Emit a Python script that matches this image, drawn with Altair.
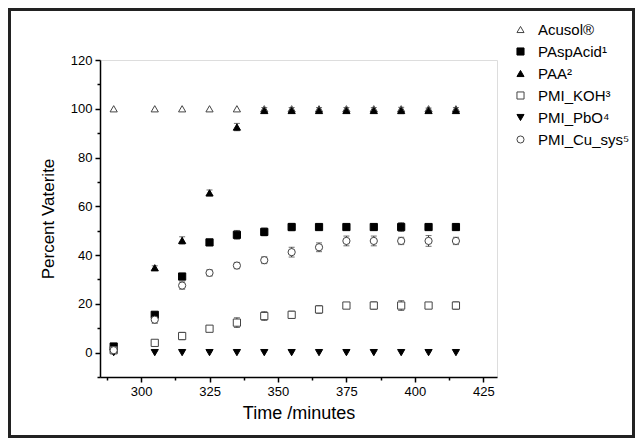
import altair as alt
import pandas as pd

times = [290, 305, 315, 325, 335, 345, 355, 365, 375, 385, 395, 405, 415]

series_names = ["Acusol®", "PAspAcid¹", "PAA²", "PMI_KOH³", "PMI_PbO⁴", "PMI_Cu_sys⁵"]

acusol = [100, 100, 100, 100, 100, 100, 100, 100, 100, 100, 100, 100, 100]
acusol_err = [0, 0, 0, 0, 0, 0, 0, 0, 0, 0, 0, 0, 0]
paspacid = [2.5, 15.5, 31.2, 45.2, 48.3, 49.5, 51.5, 51.5, 51.5, 51.5, 51.5, 51.5, 51.5]
paspacid_err = [0.5, 1.0, 1.0, 1.0, 1.8, 1.6, 1.5, 1.2, 1.0, 1.3, 1.8, 1.2, 1.3]
paa = [1.5, 34.8, 46.0, 65.5, 92.5, 99.3, 99.3, 99.3, 99.3, 99.3, 99.3, 99.3, 99.3]
paa_err = [0.5, 0.8, 1.5, 1.2, 1.5, 1.2, 1.2, 1.2, 1.2, 1.2, 1.3, 1.0, 1.2]
koh = [1.0, 4.0, 6.8, 9.8, 12.3, 15.0, 15.5, 17.7, 19.3, 19.3, 19.3, 19.3, 19.3]
koh_err = [0.5, 0.8, 1.5, 1.0, 2.0, 1.8, 1.5, 1.6, 0.8, 1.5, 2.0, 0.5, 1.5]
pbo = [0, 0, 0, 0, 0, 0, 0, 0, 0, 0, 0, 0, 0]
pbo_err = [0.5, 0, 0, 0, 0, 0, 0, 0, 0, 0, 0, 0, 0]
cu = [1.0, 13.5, 27.5, 32.7, 35.7, 37.9, 41.2, 43.2, 45.8, 45.8, 45.8, 45.8, 45.8]
cu_err = [0.5, 1.5, 1.5, 1.3, 1.3, 1.4, 2.0, 1.8, 2.0, 2.0, 1.5, 2.2, 1.5]

shapes = ["triangle-up", "square", "triangle-up", "square", "triangle-down", "circle"]
fills = ["white", "black", "black", "white", "black", "white"]
strokes = ["#444444", "black", "black", "#444444", "black", "#444444"]

values = [acusol, paspacid, paa, koh, pbo, cu]
errors = [acusol_err, paspacid_err, paa_err, koh_err, pbo_err, cu_err]

rows = []
for i, name in enumerate(series_names):
    for t, v, e in zip(times, values[i], errors[i]):
        rows.append({"series": name, "order": i, "time": t, "value": v,
                     "lo": v - e, "hi": v + e, "err": e})
df = pd.DataFrame(rows)

W, H = 397, 317
PL, PT, PR, PB = 92, 52, 138, 61
FONT = "Liberation Sans"

xscale = alt.Scale(domain=[285, 430], nice=False, zero=False)
yscale = alt.Scale(domain=[-10, 120], nice=False, zero=False)

x_major = [300, 325, 350, 375, 400, 425]
x_minor = [287.5, 312.5, 337.5, 362.5, 387.5, 412.5]
y_major = [0, 20, 40, 60, 80, 100, 120]
y_minor = [-10, 10, 30, 50, 70, 90, 110]

xaxis = alt.Axis(
    title="Time /minutes", values=x_major, orient="bottom",
    labelOverlap=False, labelFlush=False, tickSize=5,
    grid=False, domainColor="black", tickColor="black", domainWidth=1.5, tickWidth=1.5,
    labelFont=FONT, labelFontSize=13, labelColor="black", labelPadding=3,
    titleFont=FONT, titleFontSize=18, titleFontWeight="normal", titleColor="black", titlePadding=6,
)
yaxis = alt.Axis(
    title="Percent Vaterite", values=y_major, orient="left",
    labelOverlap=False, labelFlush=False, tickSize=5,
    grid=False, domainColor="black", tickColor="black", domainWidth=1.5, tickWidth=1.5,
    labelFont=FONT, labelFontSize=13, labelColor="black", labelPadding=3,
    titleFont=FONT, titleFontSize=17, titleFontWeight="normal", titleColor="black", titlePadding=13,
)
xaxis_minor = alt.Axis(
    title=None, values=x_minor, orient="bottom", labels=False, domain=False,
    tickSize=3, tickColor="black", tickWidth=1.5, grid=False,
)
yaxis_minor = alt.Axis(
    title=None, values=y_minor, orient="left", labels=False, domain=False,
    tickSize=3, tickColor="black", tickWidth=1.5, grid=False,
)

base = alt.Chart(df)

minor = base.mark_point(opacity=0).encode(
    x=alt.X("time:Q", scale=xscale, axis=xaxis_minor),
    y=alt.Y("value:Q", scale=yscale, axis=yaxis_minor),
)

err_df = df[df["err"] > 0]
err_base = alt.Chart(err_df)
rules = err_base.mark_rule(color="#333333", strokeWidth=1).encode(
    x=alt.X("time:Q", scale=xscale, axis=xaxis),
    y=alt.Y("lo:Q", scale=yscale, axis=yaxis),
    y2="hi:Q",
)
cap_lo = err_base.mark_tick(color="#333333", thickness=1, size=6, orient="horizontal").encode(
    x="time:Q", y="lo:Q")
cap_hi = err_base.mark_tick(color="#333333", thickness=1, size=6, orient="horizontal").encode(
    x="time:Q", y="hi:Q")
errs = alt.layer(rules, cap_lo, cap_hi)

leg = alt.Legend(
    title=None, orient="none", legendX=413, legendY=-38, padding=0,
    labelFont=FONT, labelFontSize=15, labelColor="black", labelOffset=10,
    rowPadding=6, symbolSize=50, symbolStrokeWidth=1, labelLimit=200,
)

points = base.mark_point(filled=False, size=52, strokeWidth=1, opacity=1).encode(
    x=alt.X("time:Q", scale=xscale, axis=None),
    y=alt.Y("value:Q", scale=yscale, axis=None),
    shape=alt.Shape("series:N", scale=alt.Scale(domain=series_names, range=shapes), legend=leg),
    fill=alt.Fill("series:N", scale=alt.Scale(domain=series_names, range=fills), legend=leg),
    stroke=alt.Stroke("series:N", scale=alt.Scale(domain=series_names, range=strokes), legend=leg),
    order="order:Q",
)

frame = alt.Chart(pd.DataFrame({"a": [0]})).mark_rect(
    fillOpacity=0, stroke="#222222", strokeWidth=3
).encode(
    x=alt.value(-PL + 1.5), x2=alt.value(W + PR - 1.5),
    y=alt.value(-PT + 1.5), y2=alt.value(H + PB - 1.5),
)

chart = alt.layer(minor, errs, points, frame).resolve_axis(
    x="independent", y="independent"
).properties(
    width=W, height=H, autosize="none",
    padding={"left": PL, "top": PT, "right": PR, "bottom": PB},
).configure_view(stroke=None).configure(background="white")

chart.save("out.html", embed_options={"renderer": "svg", "actions": False})
